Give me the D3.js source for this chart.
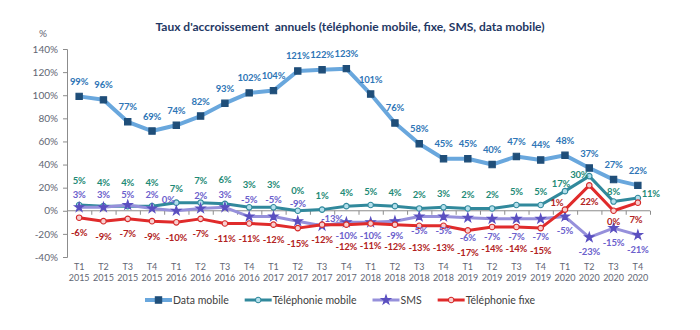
<!DOCTYPE html>
<html><head><meta charset="utf-8">
<script src="https://cdn.jsdelivr.net/npm/d3@7"></script>
<style>
body{margin:0;background:#fff;}
svg{display:block;font-family:Lato,"Open Sans",sans-serif;}
</style></head>
<body><svg id="c" width="700" height="330"></svg>
<script>
const categories = ["T1 2015","T2 2015","T3 2015","T4 2015","T1 2016","T2 2016","T3 2016","T4 2016",
  "T1 2017","T2 2017","T3 2017","T4 2017","T1 2018","T2 2018","T3 2018","T4 2018",
  "T1 2019","T2 2019","T3 2019","T4 2019","T1 2020","T2 2020","T3 2020","T4 2020"];
const dataMobile = [99,96,77,69,74,82,93,102,104,121,122,123,101,76,58,45,45,40,47,44,48,37,27,22];
const telMobile  = [5,4,4,4,7,7,6,3,3,0,1,4,5,4,2,3,2,2,5,5,17,30,8,11];
const sms        = [3,3,5,2,0,2,3,-5,-5,-9,-13,-10,-10,-9,-5,-5,-6,-7,-7,-7,-5,-23,-15,-21];
const telFixe    = [-6,-9,-7,-9,-10,-7,-11,-11,-12,-15,-12,-12,-11,-12,-13,-13,-17,-14,-14,-15,1,22,0,7];
const yTicks = [-40,-20,0,20,40,60,80,100,120,140];
const seriesNames = ["Data mobile","Téléphonie mobile","SMS","Téléphonie fixe"];

const svg = d3.select("#c");
const x = d3.scaleBand().domain(categories).range([67,650]);
const xi = d3.scaleLinear().domain([0,categories.length]).range([67,650]);
const y = d3.scaleLinear().domain([-40,140]).range([257,49]);
const cx = c => x(c) + x.bandwidth()/2;

// title
svg.append("text").attr("x",350).attr("y",31).attr("text-anchor","middle")
  .attr("font-size",12).attr("font-weight","bold").attr("fill","#1f3864")
  .style("white-space","pre")
  .text("Taux d'accroissement  annuels (téléphonie mobile, fixe, SMS, data mobile)");
svg.append("text").attr("x",43).attr("y",37).attr("text-anchor","middle")
  .attr("font-size",10).attr("fill","#5f6673").text("%");

// y axis
const ya = svg.append("g").attr("transform","translate(67,0)")
  .call(d3.axisLeft(y).tickValues(yTicks).tickSize(4).tickPadding(5).tickFormat(d=>d+"%"));
ya.selectAll("text").attr("font-size",10).attr("fill","#5f6673").attr("font-family","Lato,sans-serif");
ya.selectAll("line,path").attr("stroke","#8c8c8c");

// x axis line at 0 with boundary ticks
const xa = svg.append("g").attr("transform",`translate(0,${y(0)})`)
  .call(d3.axisBottom(xi).tickValues(d3.range(0,categories.length+1)).tickSize(4).tickSizeOuter(0).tickFormat(""));
xa.selectAll("line,path").attr("stroke","#8c8c8c");
xa.select("path").attr("d",`M67,0H650`);

// x labels at bottom
const xl = svg.append("g").attr("transform","translate(0,262)")
  .call(d3.axisBottom(x).tickSize(0).tickPadding(0));
xl.select("path").remove();
xl.selectAll("text").each(function(d){
  const t = d3.select(this); t.text(null);
  const [q,yr] = d.split(" ");
  t.attr("font-size",9).attr("fill","#5f6673").attr("font-family","Lato,sans-serif");
  t.append("tspan").attr("x",0).attr("dy","0.9em").text(q);
  t.append("tspan").attr("x",0).attr("dy","1.2em").text(yr);
});

const series = [
  {name:seriesNames[0], values:dataMobile, line:"#69a7dd", width:4, sym:d3.symbolSquare, size:40, fill:"#1f4e79", stroke:"#1f4e79", label:"#2e75b6",
   dy:i=>-15, ov:{}},
  {name:seriesNames[1], values:telMobile, line:"#31899c", width:3, sym:d3.symbolCircle, size:24, fill:"#b4e0ec", stroke:"#31899c", label:"#1e8a76",
   dy:i=>-14, ov:{0:[0,-25],1:[0,-24],2:[0,-24],3:[0,-24],5:[0,-22],6:[0,-24],7:[0,-23],8:[0,-23],9:[0,-20],20:[-4,-8],21:[-10,-2],22:[0,-10],23:[13,-5]}},
  {name:seriesNames[2], values:sms, line:"#9690db", width:3, sym:d3.symbolStar, size:26, fill:"#5a4fc0", stroke:"#5a4fc0", label:"#6b60cc",
   dy:i=>i<=9?-13:14, ov:{2:[0,-11],3:[0,-14],4:[-8,-11],7:[0,-17],8:[0,-17],9:[0,-18],10:[10,-7],11:[0,13],12:[0,13],16:[0,20],17:[0,18],18:[0,18],19:[0,18]}},
  {name:seriesNames[3], values:telFixe, line:"#e02b2b", width:3, sym:d3.symbolCircle, size:24, fill:"#f8d0d0", stroke:"#d42a2a", label:"#b22222",
   dy:i=>i<=10?15:22, ov:{20:[-8,-7],21:[0,16],22:[0,11],23:[-2,17]}}
];

const lineGen = d3.line().x((d,i)=>cx(categories[i])).y(d=>y(d));
series.forEach(s=>{
  const g = svg.append("g");
  g.append("path").datum(s.values).attr("d",lineGen).attr("fill","none")
    .attr("stroke",s.line).attr("stroke-width",s.width).attr("stroke-linejoin","round");
  g.selectAll("path.m").data(s.values).join("path").attr("class","m")
    .attr("transform",(d,i)=>`translate(${cx(categories[i])},${y(d)})`)
    .attr("d",d3.symbol(s.sym,s.size)).attr("fill",s.fill).attr("stroke",s.stroke).attr("stroke-width",1.1);
});
series.forEach(s=>{
  svg.append("g").selectAll("text").data(s.values).join("text")
    .attr("x",(d,i)=>cx(categories[i]) + (s.ov[i]?s.ov[i][0]:0))
    .attr("y",(d,i)=>y(d) + (s.ov[i]?s.ov[i][1]:s.dy(i)))
    .attr("text-anchor","middle").attr("dominant-baseline","central")
    .attr("font-size",9.5).attr("font-weight","bold").attr("letter-spacing",-0.2).attr("fill",s.label)
    .text(d=>d+"%");
});

// legend
const lg = svg.append("g").attr("transform","translate(0,300)");
let lx = 145;
series.forEach(s=>{
  const e = lg.append("g").attr("transform",`translate(${lx},0)`);
  e.append("line").attr("x1",0).attr("x2",27).attr("stroke",s.line).attr("stroke-width",s.width);
  e.append("path").attr("transform","translate(13.5,0)").attr("d",d3.symbol(s.sym,s.size)).attr("fill",s.fill).attr("stroke",s.stroke).attr("stroke-width",1.1);
  const t = e.append("text").attr("x",28).attr("dominant-baseline","central").attr("font-size",10.5).attr("fill","#404040").text(s.name);
  lx += 28 + t.node().getComputedTextLength() + 16;
});
</script></body></html>
